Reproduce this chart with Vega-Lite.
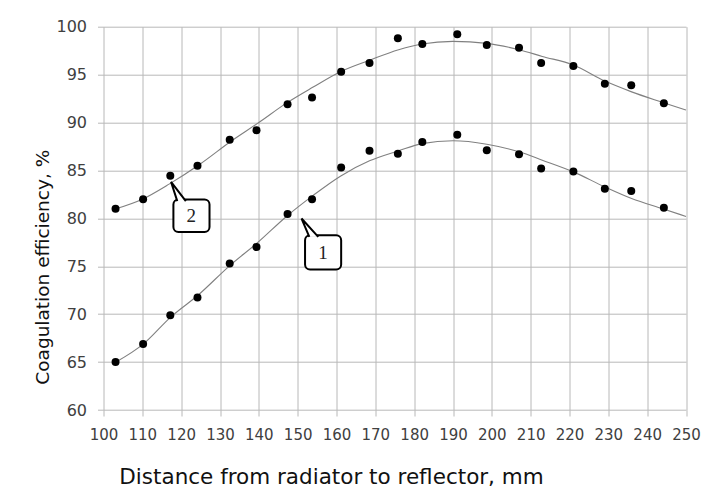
{
  "$schema": "https://vega.github.io/schema/vega-lite/v6.json",
  "width": 582.5,
  "height": 383.3,
  "autosize": {"type": "none"},
  "padding": {"left": 103.5, "top": 26.7, "right": 18, "bottom": 78},
  "background": "white",
  "config": {
    "view": {"stroke": null},
    "axis": {
      "labelFont": "DejaVu Sans",
      "titleFont": "DejaVu Sans",
      "labelColor": "#404040",
      "titleColor": "#111111",
      "titleFontWeight": "normal",
      "gridColor": "#b8b8b8",
      "gridOpacity": 1,
      "tickColor": "#b8b8b8",
      "tickSize": 6,
      "domain": false,
      "labelOverlap": false
    }
  },
  "datasets": {
    "pts": [
      {"series": "2", "x": 103.1, "y": 81.0},
      {"series": "2", "x": 110.2, "y": 82.0},
      {"series": "2", "x": 117.2, "y": 84.45},
      {"series": "2", "x": 124.2, "y": 85.5},
      {"series": "2", "x": 132.5, "y": 88.2},
      {"series": "2", "x": 139.4, "y": 89.2},
      {"series": "2", "x": 147.4, "y": 91.9},
      {"series": "2", "x": 153.7, "y": 92.6},
      {"series": "2", "x": 161.2, "y": 95.3},
      {"series": "2", "x": 168.5, "y": 96.2},
      {"series": "2", "x": 175.8, "y": 98.8},
      {"series": "2", "x": 182.1, "y": 98.2},
      {"series": "2", "x": 191.1, "y": 99.2},
      {"series": "2", "x": 198.7, "y": 98.1},
      {"series": "2", "x": 207.0, "y": 97.8},
      {"series": "2", "x": 212.7, "y": 96.2},
      {"series": "2", "x": 221.0, "y": 95.9},
      {"series": "2", "x": 229.1, "y": 94.05},
      {"series": "2", "x": 235.9, "y": 93.9},
      {"series": "2", "x": 244.3, "y": 92.0},
      {"series": "1", "x": 103.1, "y": 65.0},
      {"series": "1", "x": 110.2, "y": 66.9},
      {"series": "1", "x": 117.2, "y": 69.9},
      {"series": "1", "x": 124.2, "y": 71.75},
      {"series": "1", "x": 132.5, "y": 75.3},
      {"series": "1", "x": 139.4, "y": 77.0},
      {"series": "1", "x": 147.4, "y": 80.45},
      {"series": "1", "x": 153.7, "y": 82.0},
      {"series": "1", "x": 161.2, "y": 85.3},
      {"series": "1", "x": 168.5, "y": 87.05},
      {"series": "1", "x": 175.8, "y": 86.75},
      {"series": "1", "x": 182.1, "y": 87.96},
      {"series": "1", "x": 191.1, "y": 88.73},
      {"series": "1", "x": 198.7, "y": 87.1},
      {"series": "1", "x": 207.0, "y": 86.7},
      {"series": "1", "x": 212.7, "y": 85.2},
      {"series": "1", "x": 221.0, "y": 84.9},
      {"series": "1", "x": 229.1, "y": 83.1},
      {"series": "1", "x": 235.9, "y": 82.85},
      {"series": "1", "x": 244.3, "y": 81.1}
    ],
    "curve": [
      {"series": "2", "x": 103.2, "y": 81.0},
      {"series": "2", "x": 110, "y": 82.0},
      {"series": "2", "x": 117, "y": 83.6},
      {"series": "2", "x": 125, "y": 85.7},
      {"series": "2", "x": 133, "y": 88.1},
      {"series": "2", "x": 140, "y": 90.0},
      {"series": "2", "x": 147, "y": 92.0},
      {"series": "2", "x": 154, "y": 93.7},
      {"series": "2", "x": 161, "y": 95.3},
      {"series": "2", "x": 168.5, "y": 96.5},
      {"series": "2", "x": 176, "y": 97.6},
      {"series": "2", "x": 182, "y": 98.2},
      {"series": "2", "x": 190, "y": 98.47},
      {"series": "2", "x": 198.7, "y": 98.26},
      {"series": "2", "x": 207, "y": 97.6},
      {"series": "2", "x": 213, "y": 96.9},
      {"series": "2", "x": 221, "y": 96.0},
      {"series": "2", "x": 229, "y": 94.35},
      {"series": "2", "x": 236, "y": 93.2},
      {"series": "2", "x": 244, "y": 92.1},
      {"series": "2", "x": 250, "y": 91.3},
      {"series": "1", "x": 103.2, "y": 65.0},
      {"series": "1", "x": 110.3, "y": 66.9},
      {"series": "1", "x": 117.3, "y": 69.7},
      {"series": "1", "x": 124.4, "y": 72.0},
      {"series": "1", "x": 132.6, "y": 75.1},
      {"series": "1", "x": 139.5, "y": 77.4},
      {"series": "1", "x": 147.4, "y": 80.3},
      {"series": "1", "x": 154, "y": 82.4},
      {"series": "1", "x": 161, "y": 84.4},
      {"series": "1", "x": 168.5, "y": 86.0},
      {"series": "1", "x": 176, "y": 87.05},
      {"series": "1", "x": 182, "y": 87.8},
      {"series": "1", "x": 190, "y": 88.1},
      {"series": "1", "x": 198.7, "y": 87.74},
      {"series": "1", "x": 207, "y": 86.94},
      {"series": "1", "x": 213, "y": 86.07},
      {"series": "1", "x": 221, "y": 84.85},
      {"series": "1", "x": 229, "y": 83.3},
      {"series": "1", "x": 236, "y": 82.07},
      {"series": "1", "x": 244, "y": 81.0},
      {"series": "1", "x": 250, "y": 80.2}
    ],
    "boxes": [
      {"label": "2", "x": 118.0, "x2": 127.3, "y": 81.96, "y2": 78.58, "tx": 122.6, "ty": 80.2},
      {"label": "1", "x": 151.9, "x2": 161.2, "y": 78.23, "y2": 74.65, "tx": 156.5, "ty": 76.4}
    ],
    "tails": [
      {"id": "2", "o": 1, "x": 119.0, "y": 81.8},
      {"id": "2", "o": 2, "x": 117.4, "y": 83.8},
      {"id": "2", "o": 3, "x": 121.2, "y": 81.8},
      {"id": "1", "o": 1, "x": 153.0, "y": 78.07},
      {"id": "1", "o": 2, "x": 151.0, "y": 79.98},
      {"id": "1", "o": 3, "x": 155.3, "y": 78.07}
    ]
  },
  "encoding": {
    "x": {
      "field": "x", "type": "quantitative",
      "scale": {"domain": [100, 250], "nice": false, "zero": false},
      "axis": {
        "values": [100, 110, 120, 130, 140, 150, 160, 170, 180, 190, 200, 210, 220, 230, 240, 250],
        "labelFontSize": 15, "labelPadding": 11, "labelFlush": false, "labelOverlap": false,
        "title": "Distance from radiator to reflector, mm",
        "titleFontSize": 21.5, "titleX": 227.5, "titleY": 73, "titleBaseline": "alphabetic", "titleAlign": "center"
      }
    },
    "y": {
      "field": "y", "type": "quantitative",
      "scale": {"domain": [60, 100], "nice": false, "zero": false},
      "axis": {
        "values": [60, 65, 70, 75, 80, 85, 90, 95, 100],
        "labelFontSize": 16, "labelPadding": 11, "labelFlush": false, "labelOverlap": false,
        "title": "Coagulation efficiency, %",
        "titleFontSize": 18.5, "titleX": -55.5, "titleY": 240, "titleBaseline": "alphabetic", "titleAngle": -90, "titleAlign": "center"
      }
    }
  },
  "layer": [
    {
      "data": {"name": "curve"},
      "mark": {"type": "line", "interpolate": "monotone", "color": "#808080", "strokeWidth": 1.1},
      "encoding": {
        "detail": {"field": "series"}
      }
    },
    {
      "data": {"name": "pts"},
      "mark": {"type": "circle", "color": "black", "opacity": 1, "size": 64},
      "encoding": {}
    },
    {
      "data": {"name": "boxes"},
      "mark": {"type": "rect", "fill": "white", "stroke": "black", "strokeWidth": 2, "cornerRadius": 5},
      "encoding": {
        "x2": {"field": "x2"},
        "y2": {"field": "y2"}
      }
    },
    {
      "data": {"name": "tails"},
      "mark": {"type": "line", "fill": "white", "stroke": "black", "strokeWidth": 2, "strokeJoin": "miter"},
      "encoding": {
        "detail": {"field": "id"},
        "order": {"field": "o"}
      }
    },
    {
      "data": {"name": "boxes"},
      "mark": {"type": "text", "font": "Liberation Serif", "fontSize": 19, "color": "#222222", "baseline": "middle", "align": "center"},
      "encoding": {
        "x": {"field": "tx", "type": "quantitative"},
        "y": {"field": "ty", "type": "quantitative"},
        "text": {"field": "label"}
      }
    }
  ]
}
